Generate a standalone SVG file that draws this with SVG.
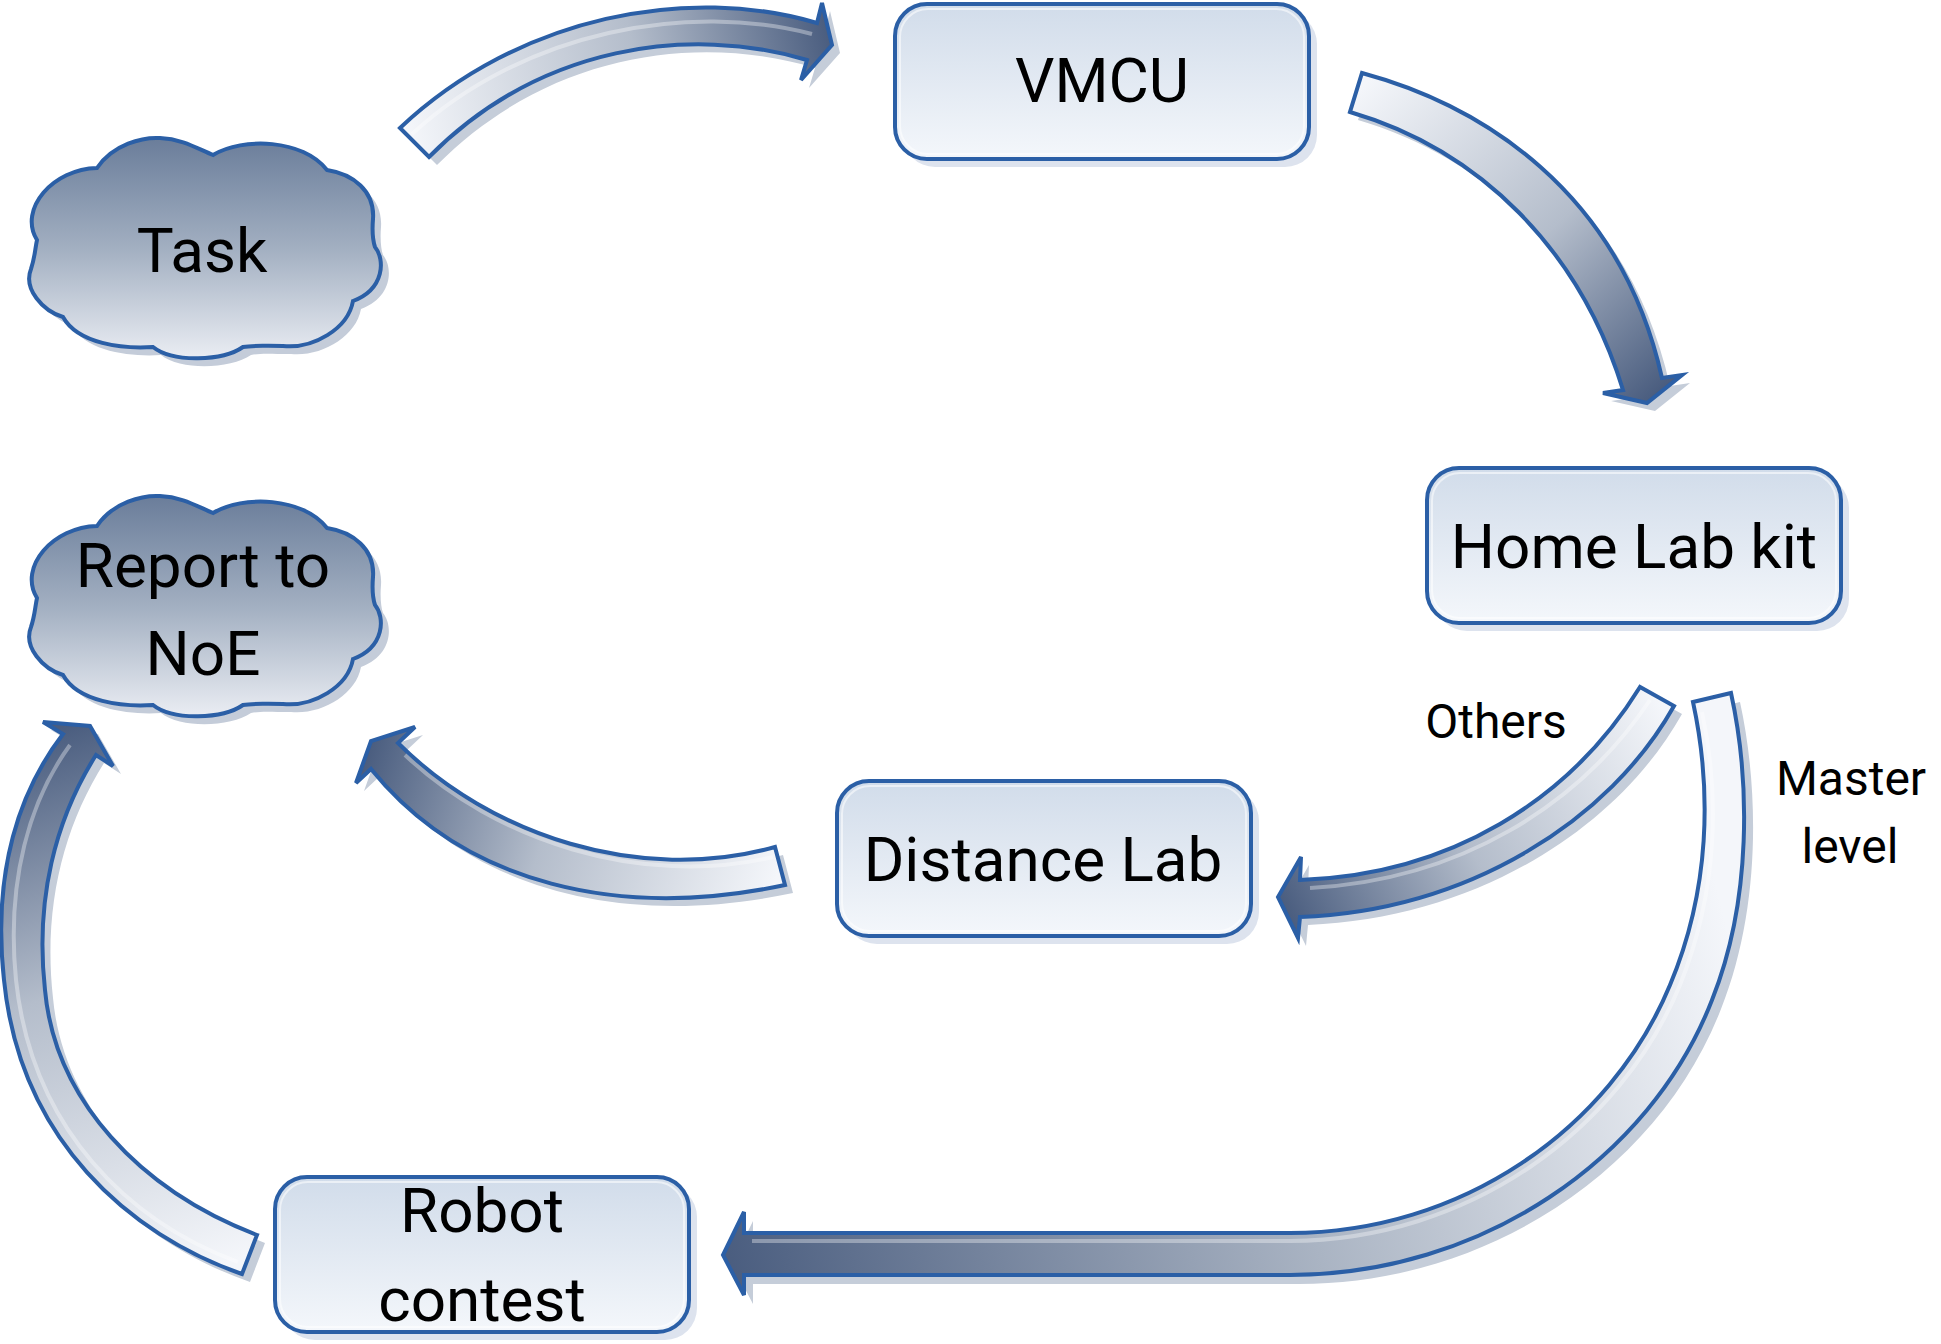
<svg xmlns="http://www.w3.org/2000/svg" width="1941" height="1344" viewBox="0 0 1941 1344">
<defs>
<style>
.t{font-family:Roboto,"DejaVu Sans",sans-serif;font-size:62px;fill:#000;text-anchor:middle}
.l{font-family:Roboto,"DejaVu Sans",sans-serif;font-size:48px;fill:#000;text-anchor:middle}
.box{fill:url(#boxg);stroke:#2b5fa6;stroke-width:4}
.boxsh{fill:#dde3ee}
.boxhl{fill:none;stroke:#ffffff;stroke-opacity:0.55;stroke-width:2}
.cloud{fill:url(#cloudg);stroke:#2b5fa6;stroke-width:4}
.cloudsh{fill:#c4ccd9}
.arr{stroke:#2b5fa6;stroke-width:4;stroke-linejoin:miter}
.arrsh{fill:#c5cdd9}
.hl{fill:none;stroke:#ffffff;stroke-opacity:0.35;stroke-width:4}
</style>
<linearGradient id="boxg" x1="0" y1="0" x2="0" y2="1">
<stop offset="0" stop-color="#d1dcea"/><stop offset="1" stop-color="#f4f7fb"/>
</linearGradient>
<linearGradient id="cloudg" x1="0" y1="0" x2="0" y2="1">
<stop offset="0" stop-color="#6a7d9a"/><stop offset="0.5" stop-color="#a2afc1"/><stop offset="1" stop-color="#eaedf3"/>
</linearGradient>
<linearGradient id="g1" gradientUnits="userSpaceOnUse" x1="410" y1="140" x2="832" y2="45">
<stop offset="0" stop-color="#f4f6fa"/><stop offset="0.55" stop-color="#b4bdcb"/><stop offset="1" stop-color="#4a5d7f"/>
</linearGradient>
<linearGradient id="g2" gradientUnits="userSpaceOnUse" x1="1356" y1="92" x2="1647" y2="403">
<stop offset="0" stop-color="#f4f6fa"/><stop offset="0.55" stop-color="#b4bdcb"/><stop offset="1" stop-color="#4a5d7f"/>
</linearGradient>
<linearGradient id="g3" gradientUnits="userSpaceOnUse" x1="1657" y1="697" x2="1278" y2="897">
<stop offset="0" stop-color="#f4f6fa"/><stop offset="0.55" stop-color="#b4bdcb"/><stop offset="1" stop-color="#4a5d7f"/>
</linearGradient>
<linearGradient id="g4" gradientUnits="userSpaceOnUse" x1="1745" y1="1000" x2="723" y2="1255">
<stop offset="0" stop-color="#f4f6fa"/><stop offset="0.45" stop-color="#aab4c3"/><stop offset="1" stop-color="#4a5d7f"/>
</linearGradient>
<linearGradient id="g5" gradientUnits="userSpaceOnUse" x1="250" y1="1255" x2="70" y2="724">
<stop offset="0" stop-color="#f4f6fa"/><stop offset="0.55" stop-color="#b4bdcb"/><stop offset="1" stop-color="#4a5d7f"/>
</linearGradient>
<linearGradient id="g6" gradientUnits="userSpaceOnUse" x1="780" y1="866" x2="371" y2="741">
<stop offset="0" stop-color="#f4f6fa"/><stop offset="0.55" stop-color="#b4bdcb"/><stop offset="1" stop-color="#4a5d7f"/>
</linearGradient>
<path id="cloudp" d="M -166,-9 C -185,-40 -150,-80 -106,-81 C -90,-105 -60,-112 -43,-111 C -20,-110 -5,-100 10,-94 C 40,-112 100,-110 124,-79 C 150,-75 172,-58 170,-30 C 169,-18 170,-8 172,-2 C 182,10 182,40 150,52 C 145,80 110,100 80,97 C 60,97 50,96 40,98 C 20,112 -30,114 -50,98 C -80,100 -125,95 -140,68 C -160,62 -180,40 -172,20 C -168,8 -168,0 -166,-9 Z"/>
<path id="a1" d="M 400,128 C 520,15 690,-15 817,23 L 822,3 L 832,45 L 801,80 L 807,60 C 690,25 540,45 429,157 Z"/>
<path id="a2" d="M 1362,73 C 1480,105 1620,190 1662,378 L 1682,375 L 1647,403 L 1603,393 L 1623,390 C 1580,250 1480,150 1350,112 Z"/>
<path id="a3" d="M 1640,687 C 1570,800 1450,875 1300,880 L 1301,857 L 1278,897 L 1298,938 L 1300,917 C 1470,910 1610,820 1674,706 Z"/>
<path id="a4" d="M 1693,702 L 1731,693 C 1750,780 1752,900 1712,1000 C 1650,1160 1480,1275 1290,1275 L 744,1275 L 744,1295 L 723,1255 L 744,1212 L 744,1233 L 1290,1233 C 1460,1233 1610,1130 1670,985 C 1710,890 1712,790 1693,702 Z"/>
<path id="a5" d="M 242,1274 C 130,1235 20,1140 4,980 C -8,870 20,790 63,734 L 43,722 L 90,726 L 113,766 L 96,755 C 55,820 35,900 45,990 C 55,1100 140,1190 257,1235 Z"/>
<path id="a6" d="M 398,743 C 490,835 640,885 775,847 L 785,885 C 620,920 465,885 371,769 L 356,783 L 371,741 L 415,727 Z"/>
</defs>
<rect width="1941" height="1344" fill="#ffffff"/>

<g id="connectors">
<use href="#a1" class="arrsh" transform="translate(8,8)"/>
<use href="#a2" class="arrsh" transform="translate(8,8)"/>
<use href="#a3" class="arrsh" transform="translate(8,8)"/>
<use href="#a4" class="arrsh" transform="translate(9,9)"/>
<use href="#a5" class="arrsh" transform="translate(8,8)"/>
<use href="#a6" class="arrsh" transform="translate(8,8)"/>
<use href="#a1" class="arr" fill="url(#g1)"/>
<use href="#a2" class="arr" fill="url(#g2)"/>
<use href="#a3" class="arr" fill="url(#g3)"/>
<use href="#a4" class="arr" fill="url(#g4)"/>
<use href="#a5" class="arr" fill="url(#g5)"/>
<use href="#a6" class="arr" fill="url(#g6)"/>
<path class="hl" d="M 412,134 C 525,30 690,2 812,34"/>
<path class="hl" d="M 1650,700 C 1580,805 1460,880 1310,888"/>
<path class="hl" d="M 1702,712 C 1720,795 1718,890 1680,985 C 1620,1130 1470,1240 1290,1241 L 752,1241"/>
<path class="hl" d="M 238,1262 C 130,1222 32,1130 16,980 C 6,880 30,800 70,745"/>
<path class="hl" d="M 405,755 C 495,840 640,888 773,857"/>
</g>

<g id="task">
<use href="#cloudp" class="cloudsh" transform="translate(211,257)"/>
<use href="#cloudp" class="cloud" transform="translate(203,249)"/>
<text class="t" x="202" y="272">Task</text>
</g>

<g id="report">
<use href="#cloudp" class="cloudsh" transform="translate(211,615)"/>
<use href="#cloudp" class="cloud" transform="translate(203,607)"/>
<text class="t" x="203" y="587">Report to</text>
<text class="t" x="203" y="675">NoE</text>
</g>

<g id="vmcu">
<rect class="boxsh" x="903" y="12" width="414" height="155" rx="32"/>
<rect class="box" x="895" y="4" width="414" height="155" rx="32"/>
<rect class="boxhl" x="900" y="9" width="404" height="145" rx="28"/>
<text class="t" x="1102" y="102">VMCU</text>
</g>

<g id="homelab">
<rect class="boxsh" x="1435" y="476" width="414" height="155" rx="32"/>
<rect class="box" x="1427" y="468" width="414" height="155" rx="32"/>
<rect class="boxhl" x="1432" y="473" width="404" height="145" rx="28"/>
<text class="t" x="1634" y="568">Home Lab kit</text>
</g>

<g id="distancelab">
<rect class="boxsh" x="845" y="789" width="414" height="155" rx="32"/>
<rect class="box" x="837" y="781" width="414" height="155" rx="32"/>
<rect class="boxhl" x="842" y="786" width="404" height="145" rx="28"/>
<text class="t" x="1043" y="881">Distance Lab</text>
</g>

<g id="robot">
<rect class="boxsh" x="283" y="1185" width="414" height="155" rx="32"/>
<rect class="box" x="275" y="1177" width="414" height="155" rx="32"/>
<rect class="boxhl" x="280" y="1182" width="404" height="145" rx="28"/>
<text class="t" x="482" y="1232">Robot</text>
<text class="t" x="482" y="1321">contest</text>
</g>

<g id="labels">
<text class="l" x="1496" y="738">Others</text>
<text class="l" x="1851" y="795">Master</text>
<text class="l" x="1850" y="863">level</text>
</g>
</svg>
